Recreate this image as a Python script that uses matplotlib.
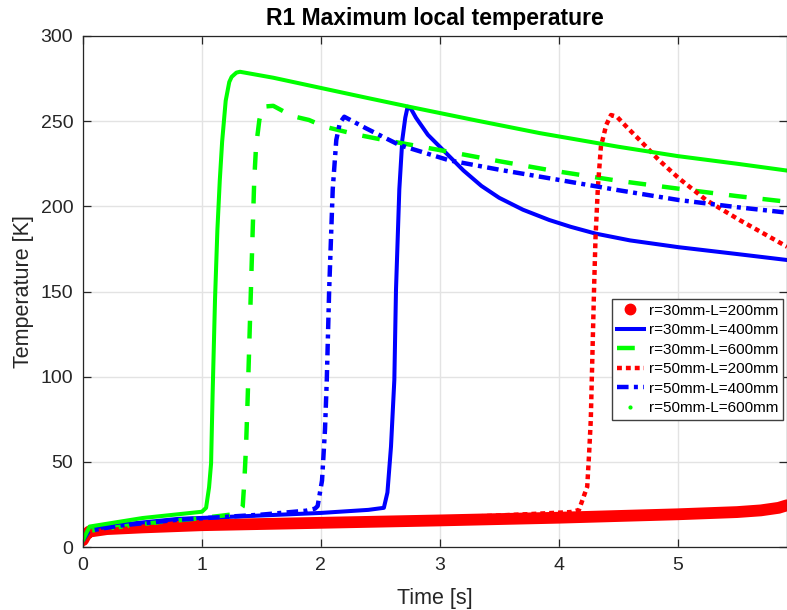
import matplotlib
matplotlib.use('Agg')
import matplotlib.pyplot as plt
from matplotlib.lines import Line2D

plt.rcParams['font.family'] = ['Liberation Sans', 'DejaVu Sans']



# Data (time [s], temperature [K])

t_r30_L200 = [0, 0.02, 0.05, 0.2, 0.5, 1.0, 2.0, 3.0, 4.0, 5.0, 5.5, 5.7, 5.85, 5.92]
T_r30_L200 = [4, 6.5, 9, 10.5, 11.5, 12.8, 14.2, 15.6, 17.2, 19.2, 20.5, 21.5, 23, 24.5]

t_r30_L400 = [0, 0.05, 0.3, 0.8, 1.5, 2.0, 2.4, 2.53, 2.56, 2.59, 2.618, 2.632, 2.66,
              2.685, 2.71, 2.73, 2.76, 2.80, 2.9, 3.0, 3.1, 3.2, 3.35, 3.5, 3.7, 3.92,
              4.1, 4.31, 4.6, 5.01, 5.5, 5.92]
T_r30_L400 = [4, 10, 13, 16.5, 18.5, 20, 21.8, 23, 32, 59, 98, 151, 210,
              239, 252, 258.5, 257, 252, 242, 235, 228, 221, 212, 205, 198, 192,
              188, 184, 180, 176, 172, 168.5]

t_r30_L600 = [0, 0.05, 0.5, 1.0, 1.3, 1.343, 1.357, 1.371, 1.385, 1.427, 1.44, 1.455,
              1.483, 1.51, 1.6, 1.76, 1.9, 2.03, 2.31, 2.49, 3.08, 3.5, 3.92, 4.5, 5.09, 5.5, 5.92]
T_r30_L600 = [4, 9.5, 13.5, 17, 19.5, 23.7, 39, 59, 88, 186, 215.5, 235,
              250.7, 258.5, 259, 253, 250.7, 246.8, 242, 239.5, 232, 226.5, 221.3, 215, 209.6, 206, 202.7]

t_r50_L200 = [0, 0.05, 0.5, 1.0, 2.0, 3.0, 3.75, 4.1, 4.17, 4.24, 4.256, 4.27, 4.284,
              4.298, 4.31, 4.33, 4.355, 4.40, 4.44, 4.49, 4.58, 4.68, 4.845, 5.01, 5.24,
              5.52, 5.75, 5.92]
T_r50_L200 = [4, 9, 11.5, 13, 15, 17, 19.3, 20.5, 21.7, 35.4, 55, 74.6, 113.7,
              152.8, 182, 211.5, 235, 247.8, 253.6, 252.6, 246, 239, 227, 216.5, 203.7,
              192, 183, 176.3]

t_r50_L400 = [0, 0.05, 0.3, 0.8, 1.5, 1.875, 1.95, 1.973, 2.01, 2.035, 2.05, 2.07, 2.10,
              2.13, 2.16, 2.197, 2.24, 2.38, 2.66, 3.08, 3.5, 3.92, 4.5, 5.01, 5.5, 5.92]
T_r50_L400 = [4, 9.5, 12.5, 16, 19, 21.3, 22.5, 24, 39, 69, 98, 151, 210,
              239, 249, 252.6, 251, 245.8, 236, 227, 221.5, 216.5, 209.5, 203.7, 199.5, 196.3]

t_r50_L600 = [0, 0.055, 0.5, 1.0, 1.035, 1.06, 1.077, 1.09, 1.11, 1.13, 1.15, 1.17,
              1.20, 1.23, 1.25, 1.29, 1.32, 1.6, 2.0, 2.4, 2.74, 3.3, 3.84, 4.5, 5.0, 5.5, 5.92]
T_r50_L600 = [4, 12, 17, 20.7, 23, 35, 49, 90, 145, 186, 215, 238,
              262, 273, 276, 278.5, 279, 275.5, 269.5, 263.5, 258.5, 250.5, 243, 235, 229.5, 225, 221]

labels = ['r=30mm-L=200mm', 'r=30mm-L=400mm', 'r=30mm-L=600mm',
          'r=50mm-L=200mm', 'r=50mm-L=400mm', 'r=50mm-L=600mm']



def main():

    fig = plt.figure(figsize=(7.87, 6.10), dpi=100)
    ax = fig.add_axes([83/787, 63/610, 704/787, 511/610])

    dark = '#262626'

    # the red "marker" series is so dense it reads as a fat band
    ax.plot(t_r30_L200, T_r30_L200, color='red', lw=8.5,
            solid_capstyle='round', solid_joinstyle='round')
    ax.plot(t_r30_L400, T_r30_L400, color='blue', lw=2.9, ls='-')
    ax.plot(t_r30_L600, T_r30_L600, color=(0, 1, 0), lw=3.2, dashes=(4.0, 3.6))
    ax.plot(t_r50_L200, T_r50_L200, color='red', lw=3.2, dashes=(1.1, 0.9),
            dash_capstyle='butt')
    ax.plot(t_r50_L400, T_r50_L400, color='blue', lw=3.2, dashes=(2.6, 1.2, 0.9, 1.2))
    ax.plot(t_r50_L600, T_r50_L600, color=(0, 1, 0), lw=2.9)

    ax.set_xlim(0, 5.92)
    ax.set_ylim(0, 300)
    ax.set_xticks([0, 1, 2, 3, 4, 5])
    ax.set_yticks([0, 50, 100, 150, 200, 250, 300])

    ax.grid(True, color='#e3e3e3', lw=1.0)
    ax.set_axisbelow(True)
    ax.tick_params(direction='in', length=6, width=0.9, top=True, right=True,
                   labelsize=14, colors=dark, pad=7)
    for sp in ax.spines.values():
        sp.set_color(dark)
        sp.set_linewidth(0.9)

    ax.set_xlabel('Time [s]', fontsize=15.5, color=dark, labelpad=10)
    ax.set_ylabel('Temperature [K]', fontsize=15.5, color=dark, labelpad=5)
    ax.set_title('R1 Maximum local temperature', fontsize=16.5, fontweight='bold',
                 color='black', pad=8)

    handles = [
        Line2D([], [], color='red', marker='o', ms=7.5, ls='none'),
        Line2D([], [], color='blue', lw=2.9),
        Line2D([], [], color=(0, 1, 0), lw=3.2, dashes=(4.0, 3.6)),
        Line2D([], [], color='red', lw=3.2, dashes=(1.1, 0.9)),
        Line2D([], [], color='blue', lw=3.2, dashes=(2.6, 1.2, 0.9, 1.2)),
        Line2D([], [], color=(0, 1, 0), marker='.', ms=4, ls='none'),
    ]
    leg = ax.legend(handles, labels, loc='upper right',
                    bbox_to_anchor=((783-83)/704, (547-299)/511),
                    fontsize=11, frameon=True, fancybox=False, framealpha=1,
                    edgecolor='#404040', handlelength=1.75, handletextpad=0.35,
                    labelspacing=0.36, borderpad=0.3, borderaxespad=0)
    leg.get_frame().set_linewidth(1.0)

    fig.savefig('out.png', dpi=100)



if __name__ == "__main__":
    main()
